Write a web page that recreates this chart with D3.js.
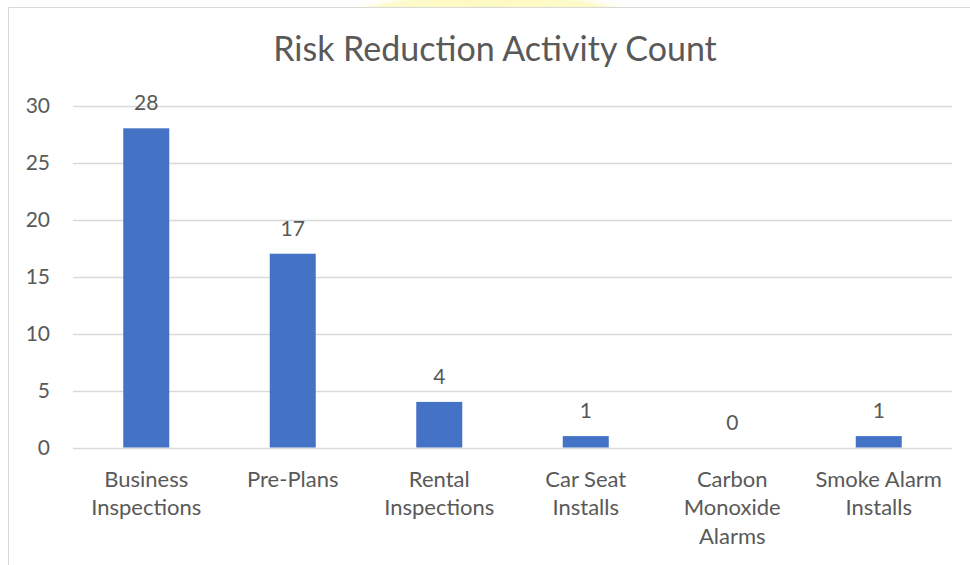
<!DOCTYPE html>
<html>
<head>
<meta charset="utf-8">
<script src="https://cdn.jsdelivr.net/npm/d3@7"></script>
<style>
  body { margin: 0; background: #fff; }
  text { font-family: Lato, "Open Sans", sans-serif; fill: #595959; }
</style>
</head>
<body>
<div id="chart"></div>
<script>
var width = 970;
var height = 565;

// data
var categories = [
    ["Business", "Inspections"],
    ["Pre-Plans"],
    ["Rental", "Inspections"],
    ["Car Seat", "Installs"],
    ["Carbon", "Monoxide", "Alarms"],
    ["Smoke Alarm", "Installs"]
];
var counts = [28, 17, 4, 1, 0, 1];
var yTicks = [0, 5, 10, 15, 20, 25, 30];
var title = "Risk Reduction Activity Count";

var svg = d3.select("#chart")
    .append("svg")
    .attr("width", width)
    .attr("height", height);

// faint yellow glow peeking over the top edge
var defs = svg.append("defs");
var grad = defs.append("radialGradient").attr("id", "glow");
grad.append("stop").attr("offset", "0%").attr("stop-color", "#fcf8b4").attr("stop-opacity", 1);
grad.append("stop").attr("offset", "80%").attr("stop-color", "#fdfac4").attr("stop-opacity", 0.9);
grad.append("stop").attr("offset", "100%").attr("stop-color", "#ffffff").attr("stop-opacity", 0);
svg.append("ellipse")
    .attr("cx", 490).attr("cy", 20)
    .attr("rx", 165).attr("ry", 30)
    .attr("fill", "url(#glow)");
svg.append("rect")
    .attr("x", 0).attr("y", 7.5)
    .attr("width", width).attr("height", height)
    .attr("fill", "#fff");

// chart frame
svg.append("path")
    .attr("d", "M8.5," + height + "V7.5H" + width)
    .attr("fill", "none")
    .attr("stroke", "#d9d9d9")
    .attr("stroke-width", 1);

var x = d3.scaleBand()
    .domain(d3.range(counts.length))
    .range([73, 952])
    .paddingInner(0.686)
    .paddingOuter(0.343);

var y = d3.scaleLinear()
    .domain([0, 30])
    .range([447.5, 105.5]);

svg.append("text")
    .attr("x", 495)
    .attr("y", 61)
    .attr("text-anchor", "middle")
    .style("font-size", "34px")
    .text(title);

// gridlines
svg.append("g")
    .selectAll("line")
    .data(yTicks)
    .enter()
    .append("line")
    .attr("x1", 73)
    .attr("x2", 952)
    .attr("y1", function(d) { return Math.round(y(d)) + 0.5; })
    .attr("y2", function(d) { return Math.round(y(d)) + 0.5; })
    .attr("stroke", "#d9d9d9")
    .attr("stroke-width", 1.5);

// y axis labels
var yAxis = svg.append("g")
    .attr("transform", "translate(50,0)")
    .call(d3.axisLeft(y).tickValues(yTicks).tickSize(0).tickPadding(0));
yAxis.select(".domain").remove();
yAxis.selectAll("text")
    .attr("fill", null)
    .style("font-size", "21px")
    .style("font-family", "Lato, sans-serif");

// bars
svg.append("g")
    .selectAll("rect")
    .data(counts)
    .enter()
    .append("rect")
    .attr("x", function(d, i) { return x(i); })
    .attr("y", function(d) { return y(d); })
    .attr("width", x.bandwidth())
    .attr("height", function(d) { return y(0) - y(d); })
    .attr("fill", "#4472c4");

// value labels
svg.append("g")
    .selectAll("text")
    .data(counts)
    .enter()
    .append("text")
    .attr("x", function(d, i) { return x(i) + x.bandwidth() / 2; })
    .attr("y", function(d) { return y(d) - 18; })
    .attr("text-anchor", "middle")
    .style("font-size", "21px")
    .text(function(d) { return d; });

// category labels
var cat = svg.append("g")
    .selectAll("text")
    .data(categories)
    .enter()
    .append("text")
    .attr("text-anchor", "middle")
    .style("font-size", "22px");
cat.selectAll("tspan")
    .data(function(d, i) { return d.map(function(t) { return { t: t, i: i }; }); })
    .enter()
    .append("tspan")
    .attr("x", function(d) { return x(d.i) + x.bandwidth() / 2; })
    .attr("y", function(d, j) { return 486.5 + j * 28.5; })
    .text(function(d) { return d.t; });
</script>
</body>
</html>
